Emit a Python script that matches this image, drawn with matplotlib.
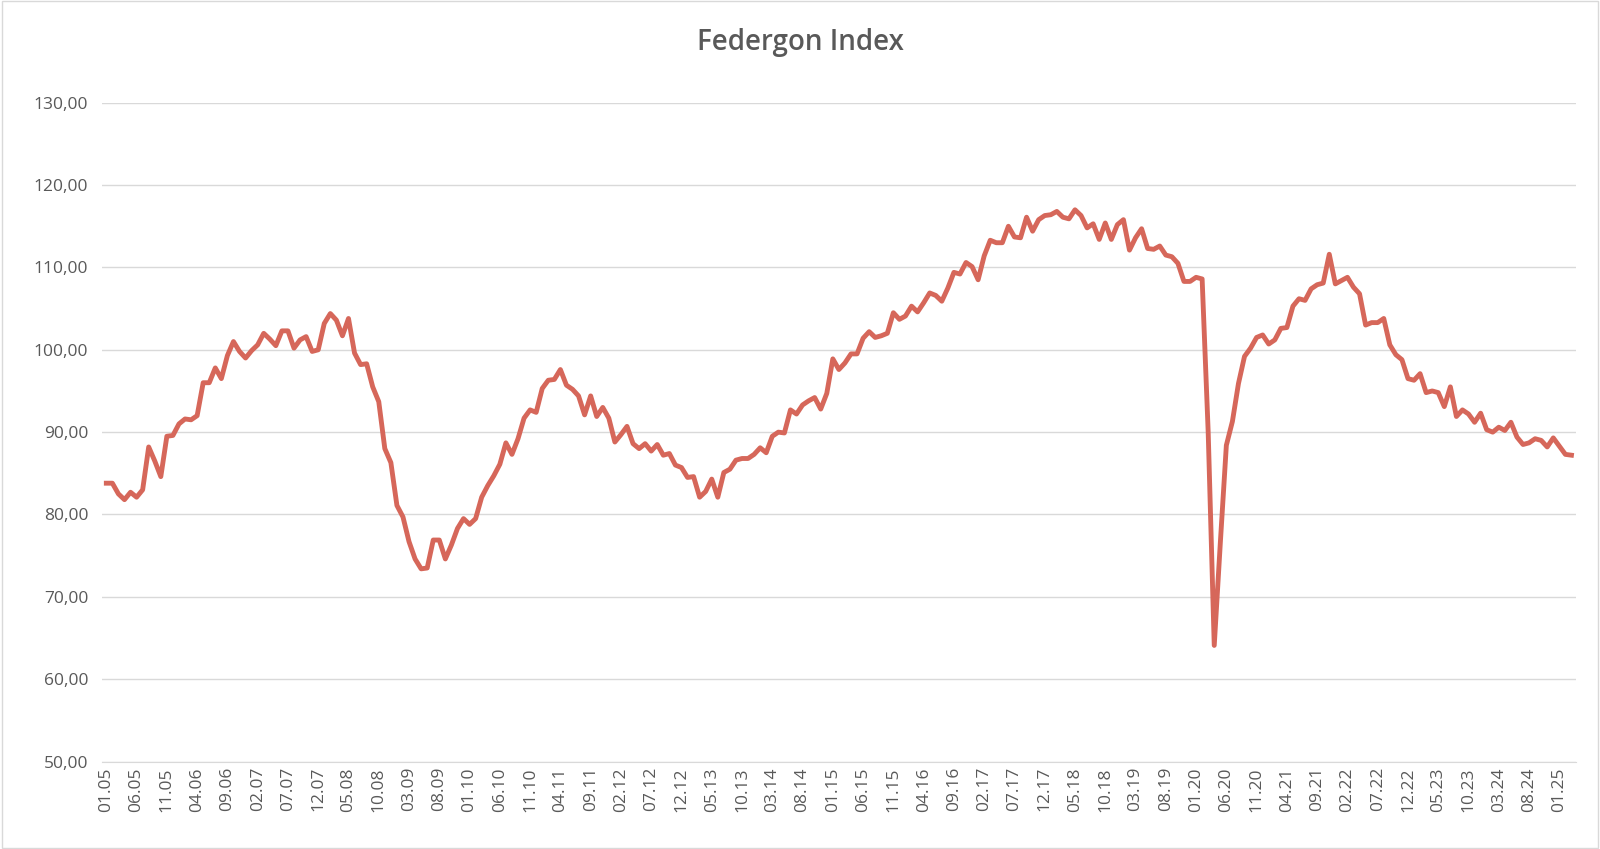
import matplotlib
matplotlib.use("Agg")
import matplotlib.pyplot as plt
from matplotlib.patches import Rectangle

plt.rcParams['font.family'] = 'Open Sans'

# monthly index values, 01.05 .. 03.25
values = [
    83.8, 83.8, 82.5, 81.8, 82.7,
    82.1, 83.0, 88.2, 86.5, 84.6,
    89.5, 89.6, 91.0, 91.6, 91.5,
    92.0, 96.0, 96.0, 97.8, 96.5,
    99.3, 101.0, 99.8, 99.0, 99.9,
    100.6, 102.0, 101.3, 100.5, 102.3,
    102.3, 100.2, 101.2, 101.6, 99.8,
    100.0, 103.2, 104.4, 103.6, 101.7,
    103.8, 99.6, 98.2, 98.3, 95.5,
    93.7, 88.0, 86.3, 81.1, 79.7,
    76.7, 74.6, 73.4, 73.5, 76.9,
    76.9, 74.6, 76.3, 78.3, 79.5,
    78.8, 79.5, 82.1, 83.5, 84.7,
    86.1, 88.7, 87.3, 89.2, 91.7,
    92.7, 92.4, 95.3, 96.3, 96.4,
    97.6, 95.7, 95.2, 94.4, 92.1,
    94.4, 91.9, 93.0, 91.7, 88.8,
    89.7, 90.7, 88.6, 88.0, 88.6,
    87.7, 88.5, 87.2, 87.4, 86.0,
    85.7, 84.5, 84.6, 82.1, 82.8,
    84.3, 82.1, 85.1, 85.5, 86.6,
    86.8, 86.8, 87.3, 88.1, 87.5,
    89.5, 90.0, 89.9, 92.7, 92.2,
    93.3, 93.8, 94.2, 92.8, 94.7,
    98.9, 97.6, 98.4, 99.5, 99.5,
    101.4, 102.2, 101.5, 101.7, 102.0,
    104.5, 103.7, 104.1, 105.3, 104.6,
    105.7, 106.9, 106.6, 105.9, 107.5,
    109.4, 109.2, 110.6, 110.1, 108.5,
    111.4, 113.3, 113.0, 113.0, 115.0,
    113.7, 113.6, 116.1, 114.4, 115.8,
    116.3, 116.4, 116.8, 116.1, 115.9,
    117.0, 116.3, 114.8, 115.3, 113.4,
    115.4, 113.4, 115.2, 115.8, 112.1,
    113.6, 114.7, 112.3, 112.2, 112.6,
    111.5, 111.3, 110.5, 108.3, 108.3,
    108.8, 108.6, 90.0, 64.1, 76.5,
    88.4, 91.3, 95.9, 99.2, 100.2,
    101.5, 101.8, 100.7, 101.2, 102.6,
    102.7, 105.3, 106.2, 106.0, 107.4,
    107.9, 108.1, 111.6, 108.0, 108.4,
    108.8, 107.6, 106.8, 103.0, 103.3,
    103.3, 103.8, 100.6, 99.4, 98.8,
    96.5, 96.3, 97.1, 94.8, 95.0,
    94.8, 93.1, 95.5, 91.9, 92.7,
    92.2, 91.2, 92.3, 90.3, 90.0,
    90.6, 90.2, 91.2, 89.4, 88.5,
    88.7, 89.2, 89.0, 88.2, 89.3,
    88.3, 87.3, 87.2,
]

labels = []
for i in range(len(values)):
    m = i % 12 + 1
    y = 5 + i // 12
    labels.append(f"{m:02d}.{y:02d}")

yticks = [50, 60, 70, 80, 90, 100, 110, 120, 130]

fig = plt.figure(figsize=(16, 8.49), dpi=100)
ax = fig.add_axes([0.0638, 0.103, 0.921, 0.776])
fig.patches.append(Rectangle((0.001, 0.001), 0.998, 0.998, transform=fig.transFigure,
                             fill=False, edgecolor='#d9d9d9', linewidth=1))

x = list(range(len(values)))
ax.plot(x, values, color='#D6675A', linewidth=3.5, solid_joinstyle='round')

ax.set_ylim(50, 130)
ax.set_yticks(yticks)
ax.set_yticklabels([f"{v},00" for v in yticks])
ax.set_xlim(-0.7, len(values) - 0.3)
ax.set_xticks(x[::5])
ax.set_xticklabels(labels[::5], rotation=90)
ax.tick_params(axis='both', colors='#595959', labelsize=12.5, length=0)
ax.tick_params(axis='x', pad=4)
ax.tick_params(axis='y', pad=10)
ax.grid(axis='y', color='#d9d9d9', linewidth=1)
ax.set_axisbelow(True)
for s in ['top', 'right', 'left']:
    ax.spines[s].set_visible(False)
ax.spines['bottom'].set_color('#d9d9d9')

fig.text(0.5, 0.95, 'Federgon Index', ha='center', va='center',
         fontsize=20, color='#595959', fontweight='semibold')

fig.savefig('out.png', dpi=100)
